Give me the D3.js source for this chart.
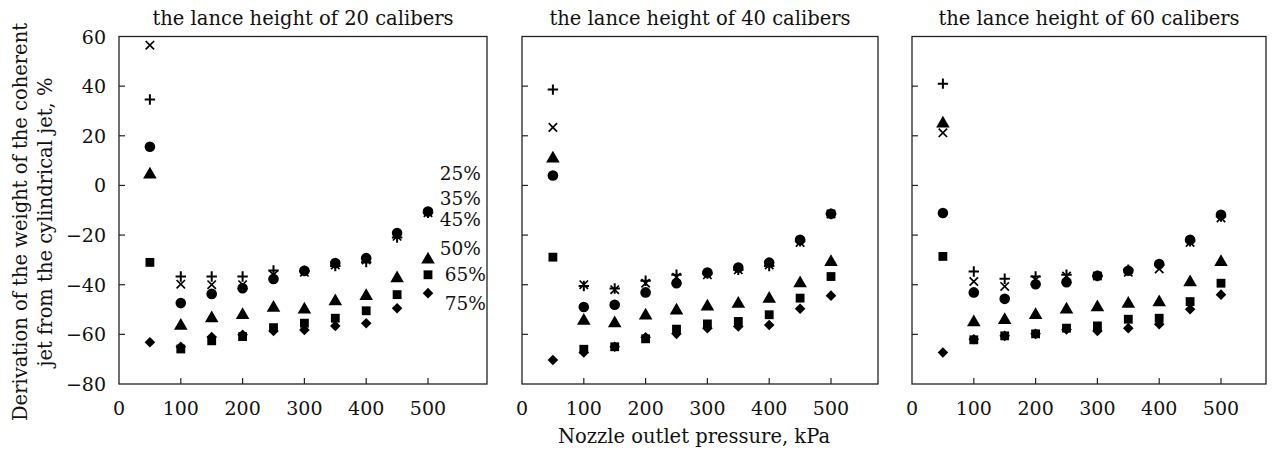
<!DOCTYPE html>
<html><head><meta charset="utf-8">
<script src="https://cdn.jsdelivr.net/npm/d3@7"></script>
<style>body{margin:0;background:#fff}</style>
</head><body><svg id="c" width="1272" height="451"></svg>
<script>
const pressures = [50,100,150,200,250,300,350,400,450,500];
const panelTitles = ["the lance height of 20 calibers","the lance height of 40 calibers","the lance height of 60 calibers"];
const seriesNames = ["25%","35%","45%","50%","65%","75%"];
const yTicks = [60,40,20,0,-20,-40,-60,-80];
const xTicks = [0,100,200,300,400,500];

// lance height 20 calibers
const h20_25 = [56.5,-39.8,-40,-40,-36,-35,-32,-30,-20.5,-11];
const h20_35 = [34.6,-36.7,-36.7,-36.7,-34.3,-34.5,-32.5,-30.9,-21,-11];
const h20_45 = [15.6,-47.4,-43.7,-41.4,-37.7,-34.4,-31.3,-29.3,-19.2,-10.5];
const h20_50 = [4.7,-56.2,-53.2,-51.9,-49,-49.7,-46.4,-44.3,-37.1,-29.6];
const h20_65 = [-31,-65.9,-62.6,-60.9,-57.3,-55.5,-53.5,-50.5,-44,-36];
const h20_75 = [-63.2,-65,-61.1,-60.2,-58.6,-58.2,-56.6,-55.5,-49.5,-43.4];
// lance height 40 calibers
const h40_25 = [23.4,-40,-42,-39.4,-37,-36,-34,-32,-23,-11.5];
const h40_35 = [38.6,-40.5,-41.5,-38.4,-36,-35.5,-34,-32.5,-22.5,-11.5];
const h40_45 = [4.0,-49,-48.1,-43.1,-39.4,-35.1,-33.1,-31.1,-21.9,-11.4];
const h40_50 = [11.1,-54.2,-55.2,-52.1,-50.1,-48.5,-47.4,-45.4,-39.1,-30.6];
const h40_65 = [-28.9,-66,-65,-61.8,-57.9,-55.8,-54.8,-52.1,-45.4,-36.7];
const h40_75 = [-70.3,-67.3,-65,-61.2,-59.8,-57.5,-56.8,-56.2,-49.7,-44.4];
// lance height 60 calibers
const h60_25 = [21.2,-38.7,-40.7,-38,-36.5,-36.5,-35,-33.6,-23,-13.1];
const h60_35 = [41,-34.7,-37.6,-36.7,-36,-36.5,-34,-32,-22.5,-12.5];
const h60_45 = [-11.1,-43.1,-45.7,-39.8,-39,-36.4,-34.4,-31.7,-21.9,-11.8];
const h60_50 = [25.2,-54.8,-53.9,-51.9,-49.7,-48.8,-47.4,-46.8,-38.7,-30.6];
const h60_65 = [-28.6,-62.2,-60.6,-59.8,-57.5,-56.6,-53.9,-53.5,-46.8,-39.4];
const h60_75 = [-67.3,-62,-60.6,-59.8,-58,-58.6,-57.5,-55.9,-49.9,-44];

const panelData = [
  [h20_25,h20_35,h20_45,h20_50,h20_65,h20_75],
  [h40_25,h40_35,h40_45,h40_50,h40_65,h40_75],
  [h60_25,h60_35,h60_45,h60_50,h60_65,h60_75]
];

const svg = d3.select("#c");
const plotTop = 36.5, plotBottom = 384;
const panels = [{l:119,r:487},{l:522,r:878},{l:912,r:1266}];
const pxPer100 = 61.8;
const y = d3.scaleLinear().domain([-80,60]).range([plotBottom, plotTop]);
const stroke = "#222";
const FONT = "'DejaVu Serif', 'Liberation Serif', serif";

function txt(g, x, yy, s, size, anchor){
  return g.append("text").attr("x",x).attr("y",yy).attr("text-anchor",anchor||"start")
    .style("font-family",FONT).style("font-size",size+"px").style("fill","#111").text(s);
}

function drawMarker(g, kind, cx, cy){
  if(kind===0){ // x
    const s=4.2;
    g.append("path").attr("d",`M${cx-s},${cy-s}L${cx+s},${cy+s}M${cx-s},${cy+s}L${cx+s},${cy-s}`).attr("stroke","#000").attr("stroke-width",1.7).attr("fill","none");
  } else if(kind===1){ // +
    const s=5.2;
    g.append("path").attr("d",`M${cx-s},${cy}L${cx+s},${cy}M${cx},${cy-s}L${cx},${cy+s}`).attr("stroke","#000").attr("stroke-width",2).attr("fill","none");
  } else if(kind===2){
    g.append("circle").attr("cx",cx).attr("cy",cy).attr("r",5.3).attr("fill","#000");
  } else if(kind===3){
    g.append("path").attr("d",d3.symbol().type(d3.symbolTriangle).size(80)()).attr("transform",`translate(${cx},${cy+0.8})`).attr("fill","#000");
  } else if(kind===4){
    g.append("path").attr("d",d3.symbol().type(d3.symbolSquare).size(78)()).attr("transform",`translate(${cx},${cy})`).attr("fill","#000");
  } else {
    g.append("path").attr("d",d3.symbol().type(d3.symbolSquare).size(56)()).attr("transform",`translate(${cx},${cy}) rotate(45)`).attr("fill","#000");
  }
}

panels.forEach((p,pi)=>{
  const x = d3.scaleLinear().domain([0,500]).range([p.l, p.l + 5*pxPer100]);
  const g = svg.append("g");
  g.append("rect").attr("x",p.l).attr("y",plotTop).attr("width",p.r-p.l).attr("height",plotBottom-plotTop)
    .attr("fill","none").attr("stroke",stroke).attr("stroke-width",1.3);
  yTicks.forEach(v=>{
    if(v>-80 && v<60) g.append("line").attr("x1",p.l).attr("x2",p.l+6).attr("y1",y(v)).attr("y2",y(v)).attr("stroke",stroke).attr("stroke-width",1.2);
    if(pi===0) txt(g,106,y(v)+7,v<0?"\u2212"+Math.abs(v):String(v),19,"end");
  });
  xTicks.forEach(v=>{
    if(v>0) g.append("line").attr("x1",x(v)).attr("x2",x(v)).attr("y1",plotBottom).attr("y2",plotBottom-6).attr("stroke",stroke).attr("stroke-width",1.2);
    txt(g,x(v),415,String(v),19,"middle");
  });
  txt(g,(p.l+p.r)/2,25,panelTitles[pi],19.5,"middle");
  panelData[pi].forEach((vals,si)=>{
    vals.forEach((v,i)=>drawMarker(g,si,x(pressures[i]),y(v)));
  });
  if(pi===0){
    const labY=[5.1,-5.0,-13.5,-25.3,-35.5,-47.3];
    const labX=[519,519,519,519,527,527];
    seriesNames.forEach((s,i)=>txt(g,x(labX[i]),y(labY[i])+7,s,18.5));
  }
});

txt(svg,694,443,"Nozzle outlet pressure, kPa",19.5,"middle");
const yt = svg.append("text").attr("transform","translate(0,222) rotate(-90)").attr("text-anchor","middle")
  .style("font-family",FONT).style("font-size","19.5px").style("fill","#111");
yt.append("tspan").attr("x",0).attr("y",27).text("Derivation of the weight of the coherent");
yt.append("tspan").attr("x",0).attr("y",52).text("jet from the cylindrical jet, %");
</script></body></html>
